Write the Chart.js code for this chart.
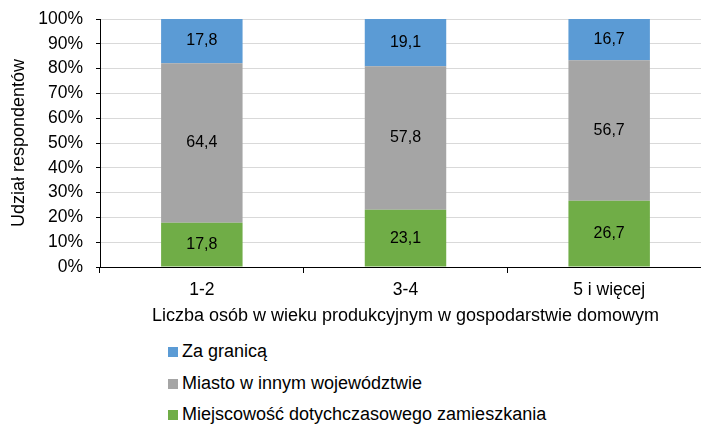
<!DOCTYPE html>
<html lang="pl">
<head>
<meta charset="utf-8">
<script src="https://cdn.jsdelivr.net/npm/chart.js@4"></script>
<style>
    body { margin: 0; background: #fff; overflow: hidden; font-family: "Liberation Sans", Arial, sans-serif; }
    #wrap { position: absolute; left: 0; top: 0; width: 711px; height: 332px; }
    #legend { position: absolute; left: 168px; top: 341px; }
    .legend-item { height: 31.5px; display: flex; align-items: flex-start; font-size: 18px; line-height: 21px; color: #000; }
    .legend-box { width: 10px; height: 10px; margin: 6px 4px 0 0; }
</style>
</head>
<body>
<div id="wrap"><canvas id="chart" width="711" height="332"></canvas></div>
<div id="legend"></div>
<script>
const categories = ['1-2', '3-4', '5 i więcej'];
const seriesNames = ['Miejscowość dotychczasowego zamieszkania', 'Miasto w innym województwie', 'Za granicą'];
const localValues = [17.8, 23.1, 26.7];
const cityValues = [64.4, 57.8, 56.7];
const abroadValues = [17.8, 19.1, 16.7];
const yTicks = [0, 10, 20, 30, 40, 50, 60, 70, 80, 90, 100];
const colors = ['#70AD47', '#A5A5A5', '#5B9BD5'];

const rawSeries = [localValues, cityValues, abroadValues];

// 100% stacked: share of each column total
function toShares(values) {
    return values.map((v, j) => {
        const total = rawSeries.reduce((s, arr) => s + arr[j], 0);
        return v / total * 100;
    });
}

const labelPlugin = {
    id: 'barLabels',
    afterDatasetsDraw(chart) {
        const ctx = chart.ctx;
        ctx.save();
        ctx.font = '16px "Liberation Sans", Arial, sans-serif';
        ctx.fillStyle = '#000';
        ctx.textAlign = 'center';
        ctx.textBaseline = 'middle';
        chart.data.datasets.forEach((ds, i) => {
            chart.getDatasetMeta(i).data.forEach((bar, j) => {
                const text = rawSeries[i][j].toFixed(1).replace('.', ',');
                ctx.fillText(text, bar.x, (bar.y + bar.base) / 2);
            });
        });
        ctx.restore();
    }
};

function buildLegend() {
    const container = document.getElementById('legend');
    for (let i = seriesNames.length - 1; i >= 0; i--) {
        const div = document.createElement('div');
        div.className = 'legend-item';
        div.innerHTML = `<div class="legend-box" style="background:${colors[i]}"></div><span>${seriesNames[i]}</span>`;
        container.appendChild(div);
    }
}

function createChart() {
    const ctx = document.getElementById('chart').getContext('2d');
    new Chart(ctx, {
        type: 'bar',
        data: {
            labels: categories,
            datasets: seriesNames.map((name, i) => ({
                label: name,
                data: toShares(rawSeries[i]),
                backgroundColor: colors[i],
                barPercentage: 0.4,
                categoryPercentage: 1
            }))
        },
        options: {
            responsive: false,
            animation: false,
            layout: { padding: { top: 19, right: 0, left: 0, bottom: 0 } },
            plugins: { legend: { display: false }, tooltip: { enabled: false } },
            scales: {
                x: {
                    stacked: true,
                    grid: { drawOnChartArea: false, drawTicks: true, tickLength: 6, tickColor: '#000' },
                    border: { color: '#000' },
                    ticks: { color: '#000', padding: 7, font: { size: 17.5, family: '"Liberation Sans", Arial, sans-serif' } },
                    title: {
                        display: true,
                        text: 'Liczba osób w wieku produkcyjnym w gospodarstwie domowym',
                        color: '#000',
                        font: { size: 18, family: '"Liberation Sans", Arial, sans-serif' },
                        padding: { top: 0, bottom: 5 }
                    },
                    afterFit(scale) { scale.height = 65; }
                },
                y: {
                    stacked: true,
                    min: 0,
                    max: 100,
                    afterBuildTicks(scale) { scale.ticks = yTicks.map(v => ({ value: v })); },
                    grid: { color: '#D9D9D9', tickLength: 4, tickColor: '#000' },
                    border: { color: '#000' },
                    ticks: {
                        color: '#000',
                        padding: 13,
                        font: { size: 17.5, family: '"Liberation Sans", Arial, sans-serif' },
                        callback: v => v + '%'
                    },
                    title: {
                        display: true,
                        text: 'Udział respondentów',
                        color: '#000',
                        font: { size: 18, family: '"Liberation Sans", Arial, sans-serif' },
                        padding: { top: 8, bottom: 0 }
                    },
                    afterFit(scale) {
                        scale.width = 100;
                        scale.paddingTop = 0;
                        scale.paddingBottom = 0;
                    }
                }
            }
        },
        plugins: [labelPlugin]
    });
}

buildLegend();
createChart();
</script>
</body>
</html>
